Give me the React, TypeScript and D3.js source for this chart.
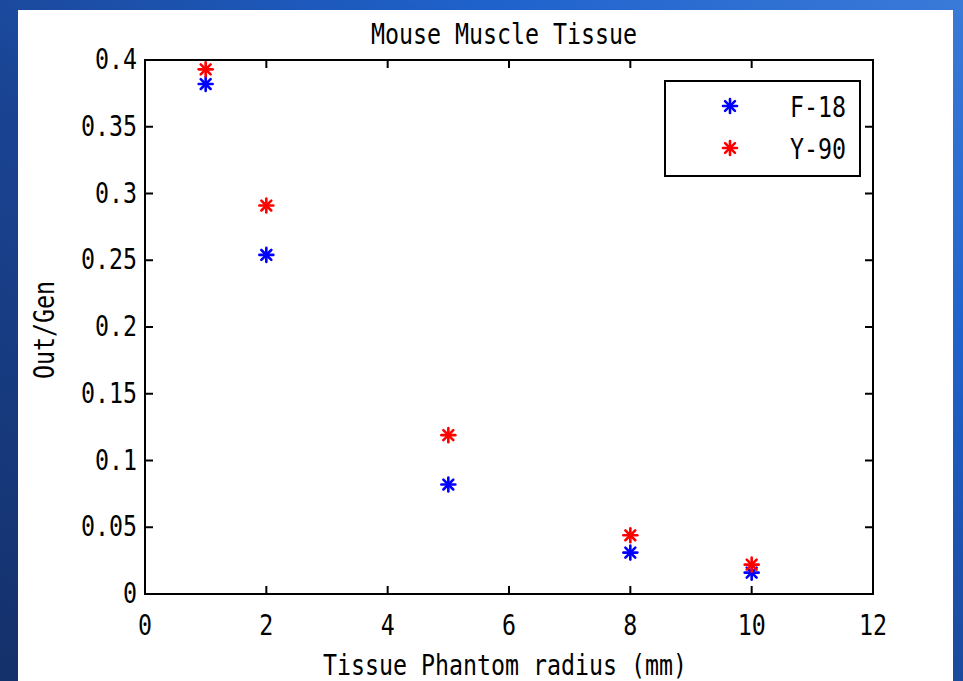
import React from "react";
import * as d3 from "d3";

const radius = [1, 2, 5, 8, 10];
const f18 = [0.382, 0.254, 0.082, 0.031, 0.016];
const y90 = [0.393, 0.291, 0.119, 0.044, 0.022];
const xTicks = [0, 2, 4, 6, 8, 10, 12];
const yTicks = [0, 0.05, 0.1, 0.15, 0.2, 0.25, 0.3, 0.35, 0.4];
const seriesNames = ["F-18", "Y-90"];
const seriesColors = ["#0000ff", "#ff0000"];

const W = 963, H = 681;
const L = 145, R = 873, T = 60, B = 594;
const FONT = "'DejaVu Sans Mono', 'Liberation Mono', monospace";

function Txt({ x, y, anchor = "start", rotate = 0, children }: any) {
  return (
    <text
      transform={`translate(${x},${y}) rotate(${rotate}) scale(0.97,1.18)`}
      textAnchor={anchor}
      fontFamily={FONT}
      fontSize={24}
      fill="#000"
    >
      {children}
    </text>
  );
}

function Star({ x, y, color }: { x: number; y: number; color: string }) {
  const r = 7;
  const d = r * Math.SQRT1_2;
  return (
    <g stroke={color} strokeWidth={2.6} strokeLinecap="round">
      <line x1={x - r} y1={y} x2={x + r} y2={y} />
      <line x1={x} y1={y - r} x2={x} y2={y + r} />
      <line x1={x - d} y1={y - d} x2={x + d} y2={y + d} />
      <line x1={x - d} y1={y + d} x2={x + d} y2={y - d} />
    </g>
  );
}

export default function App() {
  const x = d3.scaleLinear().domain([0, 12]).range([L, R]);
  const y = d3.scaleLinear().domain([0, 0.4]).range([B, T]);
  const fmt = (v: number) => (v === 0 ? "0" : String(+v.toFixed(2)));
  const series = [f18, y90];
  const tk = 8;
  return (
    <svg width={W} height={H} style={{ position: "absolute", left: 0, top: 0 }}>
      <defs>
        <linearGradient id="bg" x1="0" y1="1" x2="1" y2="0">
          <stop offset="0" stopColor="#14306a" />
          <stop offset="0.45" stopColor="#1a4595" />
          <stop offset="0.75" stopColor="#1f62cc" />
          <stop offset="1" stopColor="#3a7ad8" />
        </linearGradient>
      </defs>
      <rect x={0} y={0} width={W} height={H} fill="url(#bg)" />
      <rect x={18} y={10} width={935} height={H - 10} fill="#ffffff" />
      <Txt x={504} y={44} anchor="middle">Mouse Muscle Tissue</Txt>
      <g stroke="#000" strokeWidth={2}>
        {xTicks.map((t) => (
          <g key={"xt" + t}>
            <line x1={x(t)} x2={x(t)} y1={B} y2={B - tk} />
            <line x1={x(t)} x2={x(t)} y1={T} y2={T + tk} />
          </g>
        ))}
        {yTicks.map((t) => (
          <g key={"yt" + t}>
            <line x1={L} x2={L + tk} y1={y(t)} y2={y(t)} />
            <line x1={R} x2={R - tk} y1={y(t)} y2={y(t)} />
          </g>
        ))}
      </g>
      <rect x={L} y={T} width={R - L} height={B - T} fill="none" stroke="#000" strokeWidth={2} />
      {xTicks.map((t) => (
        <Txt key={"xl" + t} x={x(t)} y={B + 41} anchor="middle">{fmt(t)}</Txt>
      ))}
      {yTicks.map((t) => (
        <Txt key={"yl" + t} x={L - 8} y={y(t) + 9} anchor="end">{fmt(t)}</Txt>
      ))}
      <Txt x={505} y={675} anchor="middle">Tissue Phantom radius (mm)</Txt>
      <Txt x={54} y={330} anchor="middle" rotate={-90}>Out/Gen</Txt>
      {series.map((s, si) =>
        s.map((v, i) => <Star key={si + "-" + i} x={x(radius[i])} y={y(v)} color={seriesColors[si]} />)
      )}
      <rect x={665} y={81} width={195} height={95} fill="#fff" stroke="#000" strokeWidth={2} />
      {seriesNames.map((n, i) => (
        <g key={n}>
          <Star x={730} y={106 + i * 42} color={seriesColors[i]} />
          <Txt x={846} y={117 + i * 42} anchor="end">{n}</Txt>
        </g>
      ))}
    </svg>
  );
}
